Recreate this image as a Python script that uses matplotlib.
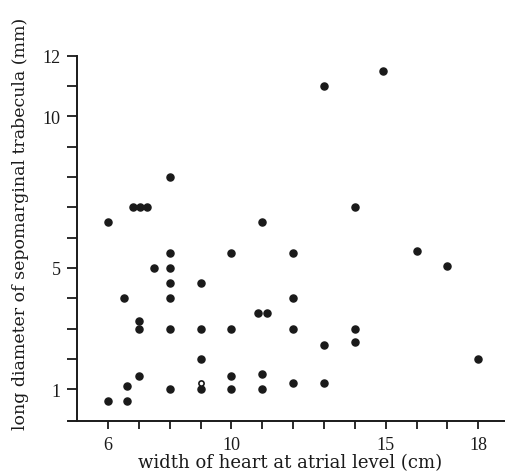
import numpy as np
import matplotlib.pyplot as plt

# width of heart at atrial level (cm) vs long diameter of trabecula (mm)
largura = [6, 6.8, 7.05, 7.25, 8, 11, 14.9, 13, 14,
           8, 10, 12, 7.5, 8, 8, 9, 6.5, 8, 12,
           10.85, 11.15, 7, 7, 8, 9, 10, 12, 9,
           7, 6.6, 6, 6.6, 8, 9, 10, 10, 11, 11, 12,
           13, 13, 14, 14, 16, 17, 18]
diametro = [6.5, 7, 7, 7, 8, 6.5, 11.5, 11, 7,
            5.5, 5.5, 5.5, 5, 5, 4.5, 4.5, 4, 4, 4,
            3.5, 3.5, 3.25, 3, 3, 3, 3, 3, 2,
            1.45, 1.1, 0.6, 0.6, 1, 1, 1.45, 1, 1.5, 1, 1.2,
            2.45, 1.2, 3, 2.55, 5.55, 5.05, 2]

# ponto vazio
largura_aberto = [9]
diametro_aberto = [1.22]

xticks = np.arange(6, 19)
xlabels = [str(t) if t in (6, 10, 15, 18) else "" for t in xticks]
yticks = np.arange(1, 13)
ylabels = [str(t) if t in (1, 5, 10, 12) else "" for t in yticks]

plt.rcParams['font.family'] = ['Liberation Serif', 'DejaVu Serif']
cor = '#1a1a1a'

fig = plt.figure(figsize=(5.06, 4.77), dpi=100)
ax = fig.add_axes([0.1344, 0.1153, 0.8656, 0.7658])

ax.scatter(largura, diametro, s=26, color=cor, zorder=3)
ax.scatter(largura_aberto, diametro_aberto, s=14, facecolors='white',
           edgecolors=cor, linewidths=1.2, zorder=4)

ax.set_xlim(4.7, 18.9)
ax.set_ylim(-0.05, 12)

ax.spines['top'].set_visible(False)
ax.spines['right'].set_visible(False)
ax.spines['left'].set_position(('data', 5.0))
ax.spines['left'].set_bounds(-0.05, 12)
for s in ['left', 'bottom']:
    ax.spines[s].set_color(cor)
    ax.spines[s].set_linewidth(1.4)

ax.set_xticks(xticks)
ax.set_xticklabels(xlabels)
ax.set_yticks(yticks)
ax.set_yticklabels(ylabels)
ax.tick_params(axis='x', direction='out', length=6, width=1.3, color=cor,
               pad=5, labelsize=13, labelcolor=cor)
ax.tick_params(axis='y', direction='out', length=7, width=1.3, color=cor,
               pad=5, labelsize=13, labelcolor=cor)

fig.text(0.573, 0.029, "width of heart at atrial level (cm)", ha='center',
         va='center', fontsize=13, color=cor, family='DejaVu Serif')
fig.text(0.04, 0.531, "long diameter of sepomarginal trabecula (mm)",
         rotation=90, ha='center', va='center', fontsize=12.5, color=cor,
         family='DejaVu Serif')

fig.savefig("out.png", dpi=100)
